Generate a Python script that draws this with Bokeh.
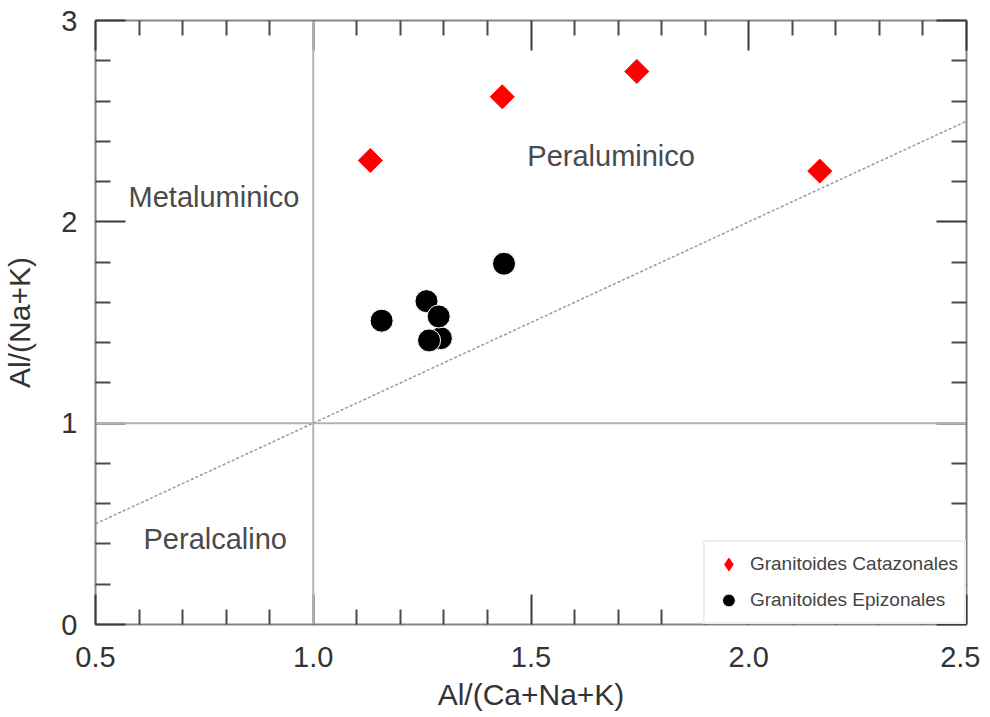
import math
from bokeh.plotting import figure
from bokeh.models import (FixedTicker, LinearAxis, Span, Slope,
                          Legend, LegendItem, PrintfTickFormatter, CustomJSTickFormatter, Range1d)
from bokeh.core.properties import value
from bokeh.embed import file_html
from bokeh.resources import INLINE

# ---------------- data ----------------
cata_x = [1.131, 1.434, 1.743, 2.163]
cata_y = [2.305, 2.621, 2.747, 2.252]

epi_x = [1.293, 1.438, 1.260, 1.157, 1.288, 1.266]
epi_y = [1.422, 1.792, 1.606, 1.509, 1.530, 1.411]

region_names = ["Metaluminico", "Peraluminico", "Peralcalino"]
region_x = [0.772, 1.684, 0.775]
region_y = [2.121, 2.325, 0.427]

x_major = [0.5, 1.0, 1.5, 2.0, 2.5]
x_minor = [0.6, 0.7, 0.8, 0.9, 1.1, 1.2, 1.3, 1.4, 1.6, 1.7, 1.8, 1.9, 2.1, 2.2, 2.3, 2.4]
y_major = [0, 1, 2, 3]
y_minor = [0.2, 0.4, 0.6, 0.8, 1.2, 1.4, 1.6, 1.8, 2.2, 2.4, 2.6, 2.8]

x_title = "Al/(Ca+Na+K)"
y_title = "Al/(Na+K)"
series_names = ["Granitoides Catazonales", "Granitoides Epizonales"]

FONT = "Liberation Sans"

p = figure(width=980, height=716, x_range=Range1d(0.5, 2.5), y_range=Range1d(0, 3),
           output_backend="svg", toolbar_location=None,
           min_border_left=91, min_border_right=14, min_border_top=20, min_border_bottom=92)
p.grid.visible = False
p.outline_line_color = "#858585"
p.outline_line_width = 2
p.background_fill_color = "white"
p.border_fill_color = "white"

def style_axis(ax, ticks, minor, labels=True, fmt=None):
    ax.ticker = FixedTicker(ticks=ticks, minor_ticks=minor)
    ax.axis_line_color = None
    ax.major_tick_in = 30
    ax.major_tick_out = 0
    ax.minor_tick_in = 15
    ax.minor_tick_out = 0
    ax.major_tick_line_color = "#3a3a3a"
    ax.minor_tick_line_color = "#4a4a4a"
    ax.major_tick_line_width = 2
    ax.minor_tick_line_width = 2
    if labels:
        ax.formatter = fmt
        ax.major_label_text_font = FONT
        ax.major_label_text_font_size = "29px"
        ax.major_label_text_color = "#333333"
        ax.axis_label_text_font = FONT
        ax.axis_label_text_font_size = "30px"
        ax.axis_label_text_font_style = "normal"
        ax.axis_label_text_color = "#333333"
    else:
        ax.formatter = CustomJSTickFormatter(code="return ''")
        ax.major_label_text_font_size = "0px"
        ax.major_label_standoff = 0
        ax.axis_label_standoff = 0

xa = p.xaxis[0]
style_axis(xa, x_major, x_minor, True, PrintfTickFormatter(format="%.1f"))
xa.axis_label = x_title
xa.major_label_standoff = 22
xa.axis_label_standoff = 8

ya = p.yaxis[0]
style_axis(ya, y_major, y_minor, True, PrintfTickFormatter(format="%d"))
ya.axis_label = y_title
ya.major_label_standoff = 18
ya.axis_label_standoff = 22

top = LinearAxis()
style_axis(top, x_major, x_minor, False)
p.add_layout(top, "above")
right = LinearAxis()
style_axis(right, y_major, y_minor, False)
p.add_layout(right, "right")

# reference lines
p.add_layout(Span(location=1, dimension="height", line_color="#b3b3b3", line_width=2))
p.add_layout(Span(location=1, dimension="width", line_color="#b3b3b3", line_width=2))
p.add_layout(Slope(gradient=1, y_intercept=0, line_color="#9a9a9a", line_width=1.5, line_dash="3 2"))

# region labels
p.text(x=region_x, y=region_y, text=region_names, text_font=value(FONT), text_font_size="29px",
       text_align="center", text_baseline="middle", text_color="#4a4a4a")

# data
r_epi = p.scatter(x=epi_x, y=epi_y, marker="circle", size=23, fill_color="black",
                  line_color="white", line_width=1)
# diamond-shaped key renderer (hidden beneath the rotated squares, used for the legend)
r_cata_key = p.scatter(x=cata_x, y=cata_y, marker="diamond", size=20,
                       fill_color="#ff0000", line_color="#ff0000", line_width=1)
r_cata = p.scatter(x=cata_x, y=cata_y, marker="square", size=17, angle=math.pi / 4,
                   fill_color="#ff0000", line_color="#ff0000", line_width=1)

legend = Legend(items=[LegendItem(label=series_names[0], renderers=[r_cata_key]),
                       LegendItem(label=series_names[1], renderers=[r_epi])],
                location="bottom_right", margin=0, padding=6, spacing=4,
                glyph_width=35, glyph_height=32, label_height=32, label_standoff=4,
                label_text_font=FONT, label_text_font_size="19px", label_text_color="#444444",
                border_line_color="#dddddd", border_line_width=2, background_fill_color="white",
                background_fill_alpha=1.0)
p.add_layout(legend)

open("out.html", "w").write(file_html(p, INLINE))
